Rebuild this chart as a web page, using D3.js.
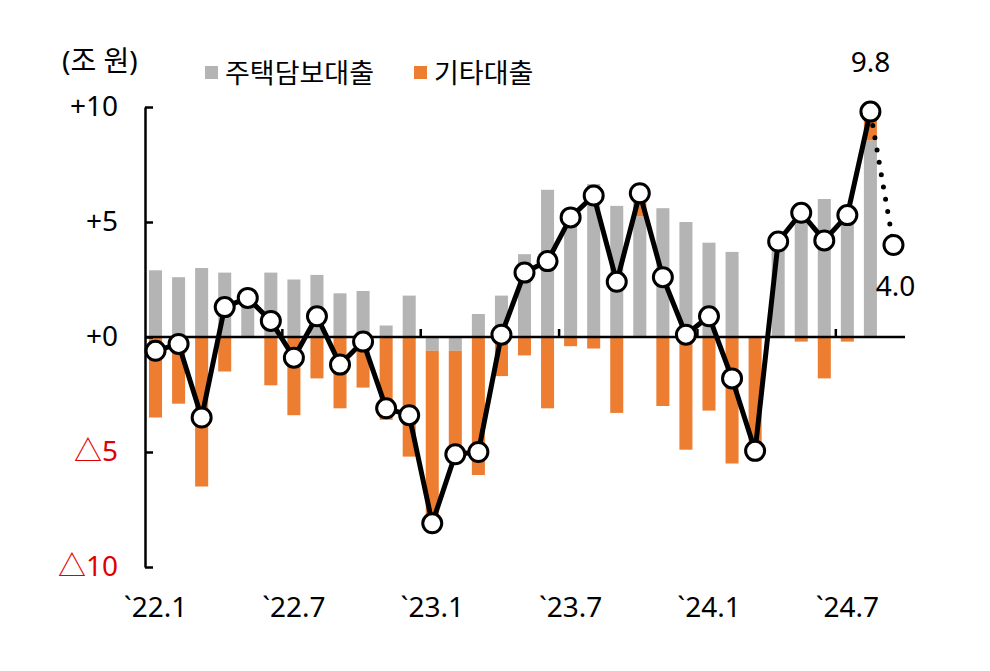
<!DOCTYPE html>
<html>
<head>
<meta charset="utf-8">
<script src="https://cdn.jsdelivr.net/npm/d3@7"></script>
<style>
  html, body { margin: 0; padding: 0; background: #fff; }
  svg { display: block; }
  text { font-family: "Noto Sans", "Noto Sans CJK KR", sans-serif; }
</style>
</head>
<body>
<svg id="chart" width="990" height="671"></svg>
<script>
// ---- data ----
const months = [
  "22.1","22.2","22.3","22.4","22.5","22.6","22.7","22.8","22.9","22.10","22.11","22.12",
  "23.1","23.2","23.3","23.4","23.5","23.6","23.7","23.8","23.9","23.10","23.11","23.12",
  "24.1","24.2","24.3","24.4","24.5","24.6","24.7","24.8","24.9"
];
// 주택담보대출 (mortgage) monthly change, 조 원
const mortgage = [2.9, 2.6, 3.0, 2.8, 1.7, 2.8, 2.5, 2.7, 1.9, 2.0, 0.5, 1.8,
  -0.6, -0.6, 1.0, 1.8, 3.6, 6.4, 5.6, 6.65, 5.7, 5.25, 5.6, 5.0,
  4.1, 3.7, 0.0, 4.15, 5.6, 6.0, 5.5, 8.55];
// 기타대출 (other loans)
const other = [-3.5, -2.9, -6.5, -1.5, 0.0, -2.1, -3.4, -1.8, -3.1, -2.2, -3.6, -5.2,
  -7.5, -4.5, -6.0, -1.7, -0.8, -3.1, -0.4, -0.5, -3.3, 1.0, -3.0, -4.9,
  -3.2, -5.5, -4.95, 0.0, -0.2, -1.8, -0.2, 1.25];
// total household loan change (line)
const total = [-0.6, -0.3, -3.5, 1.3, 1.7, 0.7, -0.9, 0.9, -1.2, -0.2, -3.1, -3.4,
  -8.1, -5.1, -5.0, 0.1, 2.8, 3.3, 5.2, 6.15, 2.4, 6.25, 2.6, 0.1,
  0.9, -1.8, -4.95, 4.15, 5.4, 4.2, 5.3, 9.8];
// preliminary estimate for the last month (dotted)
const prelimMonth = "24.9";
const prelimValue = 4.0;

const xTickMonths = ["22.1","22.7","23.1","23.7","24.1","24.7"];
const xTickLabels = ["`22.1","`22.7","`23.1","`23.7","`24.1","`24.7"];
const yTickValues = [-10, -5, 0, 5, 10];
const yTickLabels = ["△10","△5","+0","+5","+10"];
const seriesNames = ["주택담보대출","기타대출"];
const unitLabel = "(조 원)";
const colors = { mortgage: "#b4b4b4", other: "#ed7d31", neg: "#e00000" };

const FONT = '"Noto Sans", "Noto Sans CJK KR", sans-serif';
const NUM_SIZE = 28;
const KR_SIZE = 27;

// ---- scales ----
const svg = d3.select("#chart");
const x = d3.scaleBand().domain(months).range([145, 904])
  .paddingInner(0.435).paddingOuter(0.174);
const y = d3.scaleLinear().domain([-10, 10]).range([567, 107]);
const cx = m => x(m) + x.bandwidth() / 2;

// ---- stacked bars ----
const rows = months.slice(0, mortgage.length).map((m, i) => ({ month: m, mortgage: mortgage[i], other: other[i] }));
const stacked = d3.stack().keys(["mortgage", "other"]).offset(d3.stackOffsetDiverging)(rows);

svg.append("g").selectAll("g").data(stacked).join("g")
  .attr("fill", d => colors[d.key])
  .selectAll("rect").data(d => d).join("rect")
  .attr("x", d => x(d.data.month))
  .attr("width", x.bandwidth())
  .attr("y", d => y(Math.max(d[0], d[1])))
  .attr("height", d => Math.abs(y(d[0]) - y(d[1])));

// ---- y axis ----
const yAxis = d3.axisLeft(y).tickValues(yTickValues)
  .tickFormat((d, i) => yTickLabels[i])
  .tickSizeInner(-8).tickSizeOuter(0).tickPadding(27);
const gy = svg.append("g").attr("transform", "translate(145,0)").call(yAxis);
gy.select(".domain").attr("stroke", "#000").attr("stroke-width", 2.5);
gy.selectAll(".tick line").attr("stroke", "#000").attr("stroke-width", 2.5);
gy.selectAll(".tick text")
  .attr("font-size", NUM_SIZE)
  .attr("font-family", FONT)
  .attr("fill", (d) => d < 0 ? colors.neg : "#000");

// ---- zero line with boundary ticks ----
const zeroAxis = d3.axisTop(x)
  .tickValues(xTickMonths.slice(1))
  .tickSizeInner(8).tickSizeOuter(0).tickFormat("");
const gz = svg.append("g").attr("transform", `translate(0,${y(0)})`).call(zeroAxis);
gz.select(".domain").attr("d", `M145,0H905`).attr("stroke", "#000").attr("stroke-width", 2.5);
gz.selectAll(".tick").attr("transform", d => `translate(${x(d) - (x.step() - x.bandwidth()) / 2},0)`);
gz.selectAll(".tick line").attr("stroke", "#000").attr("stroke-width", 2.5);

// ---- x labels ----
const xLab = d3.axisBottom(x).tickValues(xTickMonths)
  .tickFormat((d, i) => xTickLabels[i]).tickSize(0).tickPadding(0);
const gx = svg.append("g").attr("transform", "translate(0,597)").call(xLab);
gx.select(".domain").remove();
gx.selectAll(".tick text").attr("font-size", NUM_SIZE).attr("fill", "#000")
  .attr("font-family", FONT);

// ---- line ----
const linePts = total.map((v, i) => [cx(months[i]), y(v)]);
svg.append("path").attr("d", d3.line()(linePts))
  .attr("fill", "none").attr("stroke", "#000").attr("stroke-width", 5)
  .attr("stroke-linejoin", "round");

// dotted preliminary segment
const lastIdx = total.length - 1;
svg.append("path")
  .attr("d", d3.line()([[cx(months[lastIdx]), y(total[lastIdx])], [cx(prelimMonth), y(prelimValue)]]))
  .attr("fill", "none").attr("stroke", "#000").attr("stroke-width", 5)
  .attr("stroke-linecap", "round").attr("stroke-dasharray", "0 12.5")
  .attr("stroke-dashoffset", -14);

// circles
const pts = total.map((v, i) => ({ m: months[i], v }));
pts.push({ m: prelimMonth, v: prelimValue });
svg.append("g").selectAll("circle").data(pts).join("circle")
  .attr("cx", d => cx(d.m)).attr("cy", d => y(d.v)).attr("r", 9.5)
  .attr("fill", "#fff").attr("stroke", "#000").attr("stroke-width", 3);

// value labels
svg.append("text").attr("x", cx(months[lastIdx])).attr("y", 72)
  .attr("text-anchor", "middle").attr("font-size", NUM_SIZE).text(total[lastIdx].toFixed(1));
svg.append("text").attr("x", cx(prelimMonth) + 2).attr("y", 296)
  .attr("text-anchor", "middle").attr("font-size", NUM_SIZE).text(prelimValue.toFixed(1));

// unit label
svg.append("text").attr("x", 62).attr("y", 71).attr("font-size", 28).text(unitLabel);

// legend
const legend = [
  { name: seriesNames[0], color: colors.mortgage, x: 205 },
  { name: seriesNames[1], color: colors.other, x: 414 }
];
const lg = svg.append("g").selectAll("g").data(legend).join("g")
  .attr("transform", d => `translate(${d.x},66)`);
lg.append("rect").attr("width", 13).attr("height", 13).attr("fill", d => d.color);
lg.append("text").attr("x", 20).attr("y", 17).attr("font-size", KR_SIZE).text(d => d.name);
</script>
</body>
</html>
